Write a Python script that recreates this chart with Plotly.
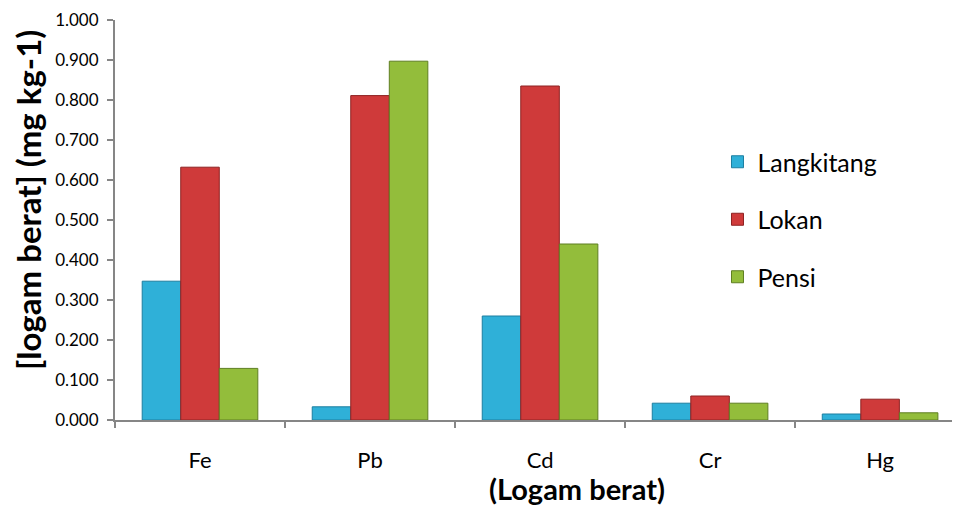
import plotly.graph_objects as go

categories = ["Fe", "Pb", "Cd", "Cr", "Hg"]
langkitang = [0.347, 0.033, 0.260, 0.042, 0.015]
lokan = [0.632, 0.811, 0.835, 0.060, 0.052]
pensi = [0.129, 0.897, 0.440, 0.042, 0.018]

series = [
    ("Langkitang", langkitang, "#2fb0d8", "#1d7fa0"),
    ("Lokan", lokan, "#cf3a3a", "#8e2222"),
    ("Pensi", pensi, "#93bd3b", "#5f7f22"),
]

fig = go.Figure()
for i, (name, vals, col, edge) in enumerate(series):
    fig.add_trace(go.Bar(
        x=categories, y=vals, name=name,
        marker=dict(color=col, line=dict(color=edge, width=1)),
        legendgroup=name,
    ))

font = "Lato, 'Open Sans', sans-serif"
fig.update_layout(
    width=952, height=498,
    margin=dict(l=107, r=0, t=12, b=86),
    paper_bgcolor="white", plot_bgcolor="white",
    barmode="group", bargap=0.32, bargroupgap=0,
    font=dict(family=font, color="black"),
    legend=dict(x=0.713, y=0.7025, xanchor="left", yanchor="top",
                font=dict(size=25, family=font), tracegroupgap=22,
                bgcolor="rgba(0,0,0,0)"),
    xaxis=dict(
        range=[-0.5, 4.47], showline=True, linecolor="#868686", linewidth=2,
        ticks="outside", tickson="boundaries", ticklen=6, tickcolor="#868686", tickwidth=2,
        tickfont=dict(size=22), showgrid=False, automargin=False,
        ticklabelstandoff=20,
    ),
    yaxis=dict(
        range=[0, 1.0], dtick=0.1, tickformat=".3f", showline=True,
        linecolor="#868686", linewidth=2, ticks="outside", ticklen=6,
        tickcolor="#868686", tickwidth=2, tickfont=dict(size=17),
        showgrid=False, zeroline=False, automargin=False,
        ticklabelstandoff=5,
    ),
    annotations=[
        dict(text="<b>[logam berat] (mg kg-1)</b>", textangle=-90,
             xref="paper", yref="paper", x=(20 - 107) / 845, y=(412 - 192) / 400,
             xanchor="center", yanchor="middle", showarrow=False,
             font=dict(size=33, family=font)),
        dict(text="<b>(Logam berat)</b>",
             xref="paper", yref="paper", x=(569 - 107) / 845, y=-(480 - 412) / 400,
             xanchor="center", yanchor="middle", showarrow=False,
             font=dict(size=29, family=font)),
    ],
)

fig.write_html("out.html")
